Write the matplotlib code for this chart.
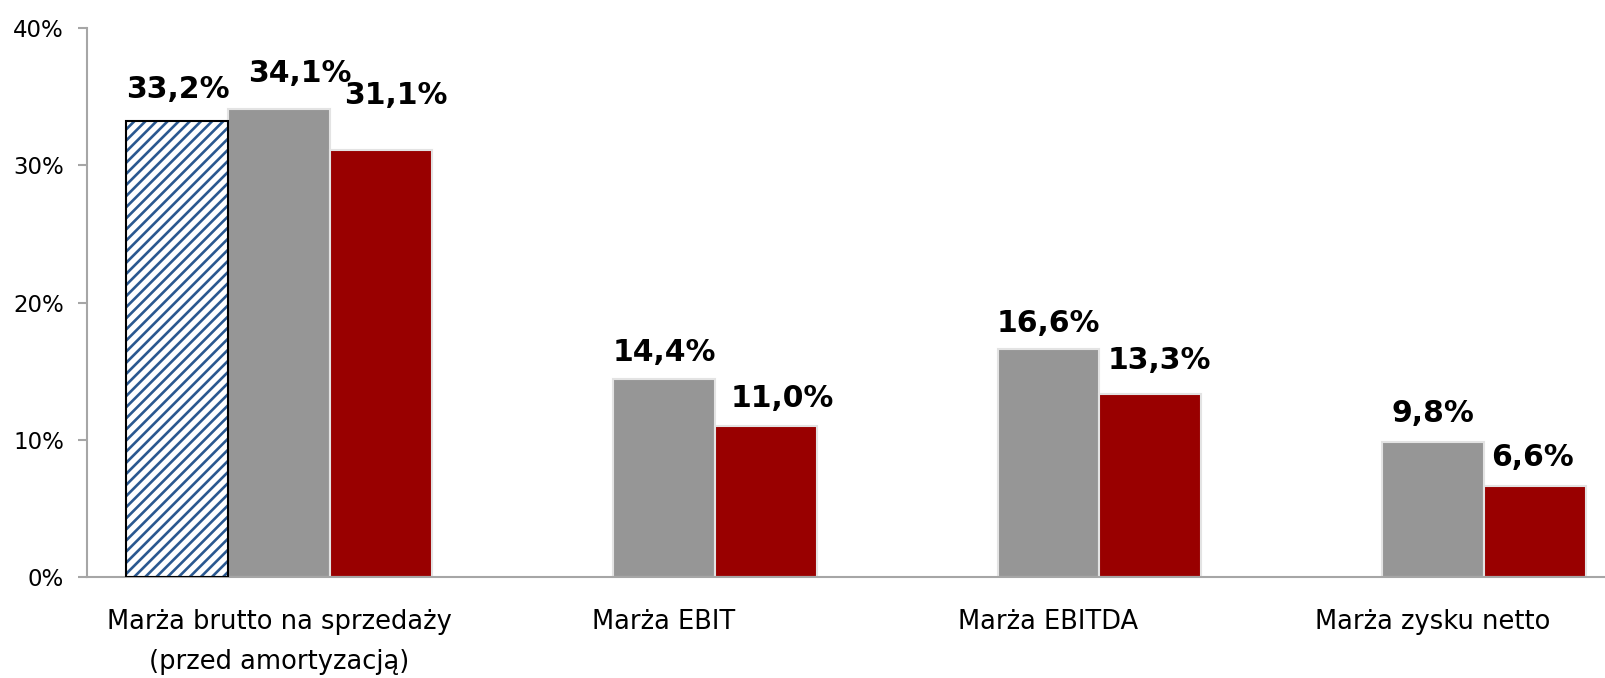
import numpy as np
import matplotlib
matplotlib.use("Agg")
import matplotlib.pyplot as plt
from matplotlib.ticker import FuncFormatter

# ---- data ----
categories = ["Marża brutto na sprzedaży\n(przed amortyzacją)", "Marża EBIT",
              "Marża EBITDA", "Marża zysku netto"]
series_hatched = [33.2, np.nan, np.nan, np.nan]
series_gray = [34.1, 14.4, 16.6, 9.8]
series_red = [31.1, 11.0, 13.3, 6.6]
y_ticks = [0, 10, 20, 30, 40]

# ---- style ----
DPI = 100
plt.rcParams["font.family"] = ["DejaVu Sans"]
plt.rcParams["hatch.linewidth"] = 1.9
plt.rcParams["hatch.color"] = "#2a5890"

fig = plt.figure(figsize=(1605 / DPI, 678 / DPI), dpi=DPI)
ax = fig.add_axes([87 / 1605, 1 - 577 / 678, 1 - 87 / 1605, (577 - 28) / 678])

x = np.arange(len(categories))
w = 0.265
gray = "#969696"
red = "#990000"
edge_light = "#e3e3e3"

ax.bar(x - w, series_hatched, w, color="white", edgecolor="#2a5890", hatch="///",
       linewidth=0, zorder=2)
ax.bar(x - w, series_hatched, w, color="none", edgecolor="black", linewidth=1.5, zorder=3)
ax.bar(x, series_gray, w, color=gray, edgecolor=edge_light, linewidth=1.5, zorder=2)
ax.bar(x + w, series_red, w, color=red, edgecolor=edge_light, linewidth=1.5, zorder=2)

# label offsets in pixels (dx, gap above bar top)
offsets = {
    (0, 0): (0, 23), (1, 0): (21, 27), (2, 0): (15, 46),
    (1, 1): (0, 18), (2, 1): (17, 19),
    (1, 2): (0, 17), (2, 2): (9, 25),
    (1, 3): (0, 20), (2, 3): (-3, 20),
}
for si, (vals, off) in enumerate([(series_hatched, -w), (series_gray, 0), (series_red, w)]):
    for ci, v in enumerate(vals):
        if np.isnan(v):
            continue
        dx, dy = offsets.get((si, ci), (0, 20))
        ax.annotate(f"{v:.1f}%".replace(".", ","), xy=(x[ci] + off, v),
                    xytext=(dx, dy), textcoords="offset pixels",
                    ha="center", va="baseline", fontsize=21.5, fontweight="bold",
                    color="black", zorder=5)

ax.set_ylim(0, 40)
ax.set_xlim(-0.5, 3.447)
ax.set_yticks(y_ticks)
ax.yaxis.set_major_formatter(FuncFormatter(lambda v, p: f"{int(v)}%"))
ax.set_xticks(x)
ax.set_xticklabels(categories, fontsize=18.5, linespacing=1.68)
ax.tick_params(axis="x", length=0, pad=23)
ax.tick_params(axis="y", length=6.5, width=1.5, color="#a6a6a6", labelsize=16.5, pad=10)

for s in ["top", "right"]:
    ax.spines[s].set_visible(False)
for s in ["left", "bottom"]:
    ax.spines[s].set_color("#a6a6a6")
    ax.spines[s].set_linewidth(1.5)

fig.savefig("out.png", dpi=DPI)
